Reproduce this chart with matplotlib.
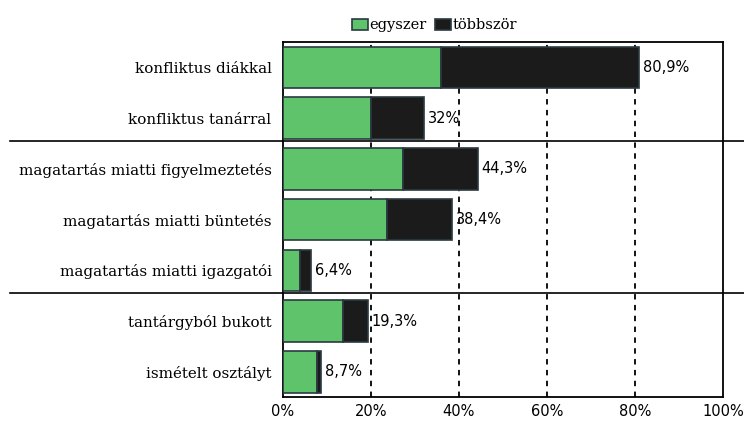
import matplotlib.pyplot as plt

categories = [
    "konfliktus diákkal",
    "konfliktus tanárral",
    "magatartás miatti figyelmeztetés",
    "magatartás miatti büntetés",
    "magatartás miatti igazgatói",
    "tantárgyból bukott",
    "ismételt osztályt",
]
egyszer = [36.0, 20.0, 27.3, 23.6, 3.9, 13.6, 7.7]
tobbszor = [44.9, 12.0, 17.0, 14.8, 2.5, 5.7, 1.0]
totals = ["80,9%", "32%", "44,3%", "38,4%", "6,4%", "19,3%", "8,7%"]
x_ticks = [0, 20, 40, 60, 80, 100]
group_breaks = [1.45, 4.45]

green = "#5fc36c"
dark = "#1b1b1b"

fig = plt.figure(figsize=(7.44, 4.28), dpi=100)
ax = fig.add_axes([0.380, 0.072, 0.592, 0.830])

y = list(range(len(categories)))
ax.barh(y, egyszer, height=0.82, color=green, edgecolor="#2a3a40", linewidth=1.2,
        label="egyszer", zorder=3)
ax.barh(y, tobbszor, left=egyszer, height=0.82, color=dark, edgecolor="#2a3a40",
        linewidth=1.2, label="többször", zorder=3)

for i, txt in enumerate(totals):
    ax.text(egyszer[i] + tobbszor[i] + 0.9, i, txt, va="center", ha="left",
            fontsize=10.5, family="DejaVu Sans", zorder=4)

ax.set_xlim(0, 100)
ax.set_ylim(len(categories) - 0.5, -0.5)
ax.set_xticks(x_ticks)
ax.set_xticklabels([f"{v}%" for v in x_ticks], fontsize=10.5)
ax.set_yticks(y)
ax.set_yticklabels(categories, family="DejaVu Serif", fontsize=10.9)
ax.tick_params(axis="y", length=0, pad=8)
ax.tick_params(axis="x", length=0, pad=5)

for v in x_ticks[1:-1]:
    ax.axvline(v, color="black", linestyle=(0, (3, 3)), linewidth=1.3, zorder=1)

for s in ax.spines.values():
    s.set_linewidth(1.3)

for b in group_breaks:
    ax.plot([-0.62, 1.05], [b, b], color="black", linewidth=1.2,
            transform=ax.get_yaxis_transform(), clip_on=False, zorder=5)

ax.legend(loc="lower center", bbox_to_anchor=(0.345, 1.0), ncol=2, frameon=False,
          prop={"family": "DejaVu Serif", "size": 10.5}, handlelength=1.1,
          handleheight=0.8, handletextpad=0.1, columnspacing=0.6,
          borderaxespad=0.25)

fig.savefig("out.png", dpi=100)
